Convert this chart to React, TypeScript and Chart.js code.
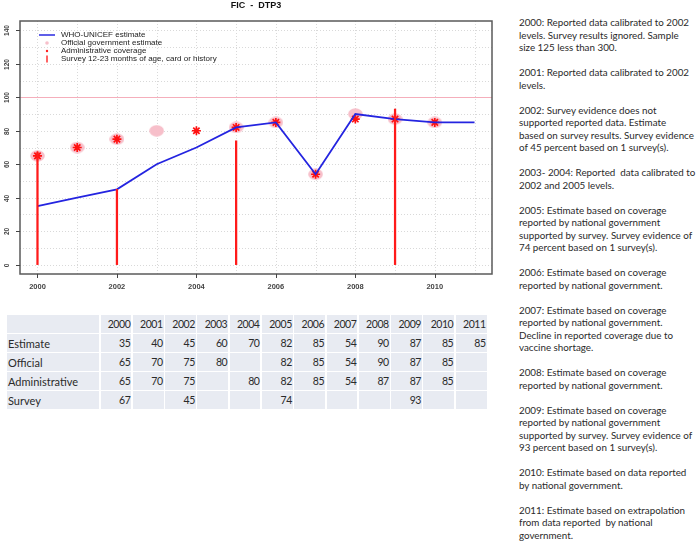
import React, { useEffect, useRef } from "react";
import { Chart, registerables } from "chart.js";
Chart.register(...registerables);

const chartTitle = "FIC  -  DTP3";
const years = [2000, 2001, 2002, 2003, 2004, 2005, 2006, 2007, 2008, 2009, 2010, 2011];
const estimate = [35, 40, 45, 60, 70, 82, 85, 54, 90, 87, 85, 85];
const official: (number | null)[] = [65, 70, 75, 80, null, 82, 85, 54, 90, 87, 85, null];
const administrative: (number | null)[] = [65, 70, 75, null, 80, 82, 85, 54, 87, 87, 85, null];
const survey: (number | null)[] = [67, null, 45, null, null, 74, null, null, null, 93, null, null];
const xTickValues = [2000, 2002, 2004, 2006, 2008, 2010];
const yTickValues = [0, 20, 40, 60, 80, 100, 120, 140];
const yGridValues = [0, 10, 20, 30, 40, 50, 60, 70, 80, 90, 100, 110, 120, 130, 140];
const targetLine = 100;
const legendLabels = [
  "WHO-UNICEF estimate",
  "Official government estimate",
  "Administrative coverage",
  "Survey 12-23 months of age, card or history",
];
const tableRows = [
  { label: "Estimate", values: estimate as (number | null)[] },
  { label: "Official", values: official },
  { label: "Administrative", values: administrative },
  { label: "Survey", values: survey },
];
const notes: string[][] = [
  ["2000: Reported data calibrated to 2002", "levels. Survey results ignored. Sample", "size 125 less than 300."],
  ["2001: Reported data calibrated to 2002", "levels."],
  ["2002: Survey evidence does not", "supported reported data. Estimate", "based on survey results. Survey evidence", "of 45 percent based on 1 survey(s)."],
  ["2003- 2004: Reported  data calibrated to", "2002 and 2005 levels."],
  ["2005: Estimate based on coverage", "reported by national government", "supported by survey. Survey evidence of", "74 percent based on 1 survey(s)."],
  ["2006: Estimate based on coverage", "reported by national government."],
  ["2007: Estimate based on coverage", "reported by national government.", "Decline in reported coverage due to", "vaccine shortage."],
  ["2008: Estimate based on coverage", "reported by national government."],
  ["2009: Estimate based on coverage", "reported by national government", "supported by survey. Survey evidence of", "93 percent based on 1 survey(s)."],
  ["2010: Estimate based on data reported", "by national government."],
  ["2011: Estimate based on extrapolation", "from data reported  by national", "government."],
];

const toPoints = (vals: (number | null)[]) =>
  years.map((x, i) => ({ x, y: vals[i] })).filter((p) => p.y !== null);

function makeEllipse(): HTMLCanvasElement {
  const c = document.createElement("canvas");
  c.width = 15;
  c.height = 12;
  const g = c.getContext("2d")!;
  g.fillStyle = "#f7bfca";
  g.beginPath();
  g.ellipse(7.5, 6, 7.3, 5.8, 0, 0, Math.PI * 2);
  g.fill();
  return c;
}

const decorPlugin = {
  id: "decor",
  beforeDatasetsDraw(chart: any) {
    const { ctx, chartArea: a, scales } = chart;
    const xs = scales.x, ys = scales.y;
    ctx.save();
    ctx.strokeStyle = "#d9d9d9";
    ctx.lineWidth = 1;
    ctx.setLineDash([1, 2]);
    years.forEach((yr) => {
      const px = Math.round(xs.getPixelForValue(yr)) + 0.5;
      ctx.beginPath();
      ctx.moveTo(px, a.top);
      ctx.lineTo(px, a.bottom);
      ctx.stroke();
    });
    yGridValues.forEach((v) => {
      if (v === targetLine) return;
      const py = Math.round(ys.getPixelForValue(v)) + 0.5;
      ctx.beginPath();
      ctx.moveTo(a.left, py);
      ctx.lineTo(a.right, py);
      ctx.stroke();
    });
    ctx.setLineDash([]);
    ctx.strokeStyle = "#f5aebb";
    const py = Math.round(ys.getPixelForValue(targetLine)) + 0.5;
    ctx.beginPath();
    ctx.moveTo(a.left, py);
    ctx.lineTo(a.right, py);
    ctx.stroke();
    ctx.restore();
  },
  afterDraw(chart: any) {
    const { ctx, chartArea: a, scales } = chart;
    const xs = scales.x, ys = scales.y;
    ctx.save();
    // frame
    ctx.strokeStyle = "#5a5a5a";
    ctx.lineWidth = 1.5;
    ctx.strokeRect(a.left, a.top, a.right - a.left, a.bottom - a.top);
    // tick marks
    ctx.lineWidth = 1;
    ctx.strokeStyle = "#444";
    xTickValues.forEach((v) => {
      const px = Math.round(xs.getPixelForValue(v)) + 0.5;
      ctx.beginPath();
      ctx.moveTo(px, a.bottom);
      ctx.lineTo(px, a.bottom + 4);
      ctx.stroke();
    });
    ctx.fillStyle = "#444";
    ctx.font = "bold 6.5px 'Liberation Sans', Arial, sans-serif";
    ctx.textAlign = "center";
    ctx.textBaseline = "middle";
    yTickValues.forEach((v) => {
      const py = Math.round(ys.getPixelForValue(v)) + 0.5;
      ctx.beginPath();
      ctx.moveTo(a.left - 4, py);
      ctx.lineTo(a.left, py);
      ctx.stroke();
      ctx.save();
      ctx.translate(7, py);
      ctx.rotate(-Math.PI / 2);
      ctx.fillText(String(v), 0, 0);
      ctx.restore();
    });
    // title
    ctx.fillStyle = "#111";
    ctx.font = "bold 9px 'Liberation Sans', Arial, sans-serif";
    ctx.fillText(chartTitle, (a.left + a.right) / 2, 6);
    // legend
    const lx = 47, ty = [35, 43, 51, 59];
    ctx.strokeStyle = "#2a2ae0";
    ctx.lineWidth = 1.5;
    ctx.beginPath();
    ctx.moveTo(39, ty[0]);
    ctx.lineTo(55, ty[0]);
    ctx.stroke();
    ctx.fillStyle = "#f7bfca";
    ctx.beginPath();
    ctx.arc(lx, ty[1], 1.8, 0, Math.PI * 2);
    ctx.fill();
    ctx.fillStyle = "#ff2020";
    ctx.beginPath();
    ctx.arc(lx, ty[2], 1.2, 0, Math.PI * 2);
    ctx.fill();
    ctx.strokeStyle = "#ff3030";
    ctx.lineWidth = 1.5;
    ctx.beginPath();
    ctx.moveTo(lx, ty[3] - 3.5);
    ctx.lineTo(lx, ty[3] + 3.5);
    ctx.stroke();
    ctx.fillStyle = "#222";
    ctx.font = "8px 'Liberation Sans', Arial, sans-serif";
    ctx.textAlign = "left";
    legendLabels.forEach((t, i) => ctx.fillText(t, 61, ty[i]));
    ctx.restore();
  },
};

function ChartBox() {
  const ref = useRef<HTMLCanvasElement>(null);
  useEffect(() => {
    const ellipse = makeEllipse();
    const chart = new Chart(ref.current!, {
      type: "bar",
      data: {
        datasets: [
          {
            type: "bar",
            label: "Survey",
            data: toPoints(survey) as any,
            backgroundColor: "#ff1a1a",
            barThickness: 1.6,
            order: 1,
          } as any,
          {
            type: "line",
            label: "Estimate",
            data: toPoints(estimate) as any,
            borderColor: "#2424e0",
            borderWidth: 1.8,
            pointRadius: 0,
            fill: false,
            tension: 0,
            order: 2,
          },
          {
            type: "line",
            label: "Administrative",
            data: toPoints(administrative) as any,
            showLine: false,
            pointStyle: "star",
            pointRadius: 4.5,
            borderColor: "#ff1010",
            borderWidth: 1.7,
            order: 3,
          },
          {
            type: "line",
            label: "Official",
            data: toPoints(official) as any,
            showLine: false,
            pointStyle: ellipse as any,
            pointRadius: 7,
            order: 4,
          },
        ],
      },
      options: {
        animation: false,
        responsive: false,
        layout: { padding: { left: 0, right: 5, top: 21, bottom: 0 } },
        plugins: { legend: { display: false }, tooltip: { enabled: false }, title: { display: false } },
        scales: {
          x: {
            type: "linear",
            min: 1999.56,
            max: 2011.44,
            offset: false,
            grid: { display: false, drawTicks: false },
            border: { display: false },
            afterBuildTicks: (s: any) => {
              s.ticks = xTickValues.map((v) => ({ value: v }));
            },
            afterFit: (s: any) => {
              s.height = 26;
            },
            ticks: {
              padding: 8,
              maxRotation: 0,
              autoSkip: false,
              color: "#444",
              font: { family: "'Liberation Sans', Arial, sans-serif", size: 7.5, weight: "bold" },
              callback: (v: any) => String(v),
            },
          },
          y: {
            type: "linear",
            min: -5.6,
            max: 145.6,
            grid: { display: false, drawTicks: false },
            border: { display: false },
            afterBuildTicks: (s: any) => {
              s.ticks = yTickValues.map((v) => ({ value: v }));
            },
            afterFit: (s: any) => {
              s.width = 20;
            },
            ticks: { display: false },
          },
        },
      },
      plugins: [decorPlugin],
    });
    return () => chart.destroy();
  }, []);
  return (
    <canvas
      ref={ref}
      width={500}
      height={300}
      style={{ position: "absolute", left: 0, top: 0, width: 500, height: 300 }}
    />
  );
}

export default function App() {
  const cellBg = "#e8ebf2";
  const font = "Lato, 'Open Sans', sans-serif";
  const numStyle = { background: cellBg, textAlign: "right" as const, paddingRight: 1, lineHeight: "19px", fontSize: 10.5, letterSpacing: "-0.45px" };
  return (
    <div style={{ position: "absolute", left: 0, top: 0, width: 697, height: 545, background: "#fff", overflow: "hidden" }}>
      <ChartBox />
      <div
        style={{
          position: "absolute",
          left: 7,
          top: 315,
          display: "grid",
          gridTemplateColumns: "92px repeat(12, 30.8px)",
          gridAutoRows: "17.5px",
          gap: "1.5px",
          background: "#fff",
          fontFamily: font,
          fontSize: 11,
          color: "#2a2a2a",
        }}
      >
        <div style={{ background: cellBg }} />
        {years.map((y) => (
          <div key={"h" + y} style={numStyle}>
            {y}
          </div>
        ))}
        {tableRows.map((r) => (
          <React.Fragment key={r.label}>
            <div style={{ background: cellBg, paddingLeft: 1, lineHeight: "19px" }}>{r.label}</div>
            {r.values.map((v, i) => (
              <div key={r.label + i} style={numStyle}>
                {v === null ? "" : v}
              </div>
            ))}
          </React.Fragment>
        ))}
      </div>
      <div
        style={{
          position: "absolute",
          left: 519,
          top: 16,
          fontFamily: font,
          fontSize: 9.8,
          lineHeight: "12.5px",
          color: "#2a2a2a",
          whiteSpace: "pre",
        }}
      >
        {notes.map((p, i) => (
          <div key={i} style={{ marginBottom: "12.5px" }}>
            {p.join("\n")}
          </div>
        ))}
      </div>
    </div>
  );
}
